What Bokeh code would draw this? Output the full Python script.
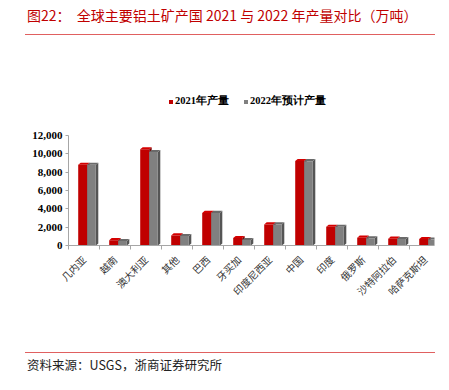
import numpy as np
from bokeh.plotting import figure
from bokeh.layouts import column
from bokeh.models import (FixedTicker, NumeralTickFormatter, Range1d, Legend,
                          LegendItem, Div)
from bokeh.embed import file_html
from bokeh.resources import INLINE

# ---------------- data ----------------
categories = ["几内亚", "越南", "澳大利亚", "其他", "巴西", "牙买加", "印度尼西亚",
              "中国", "印度", "俄罗斯", "沙特阿拉伯", "哈萨克斯坦"]
prod_2021 = [8800, 580, 10500, 1100, 3550, 820, 2300, 9220, 2040, 850, 740, 700]
prod_2022 = [8800, 480, 10200, 1030, 3550, 600, 2300, 9200, 2040, 780, 700, 650]
y_ticks = [0, 2000, 4000, 6000, 8000, 10000, 12000]
series_names = ["2021年产量", "2022年预计产量"]
series_colors = ["#C00000", "#808080"]

title_text = "图22：  全球主要铝土矿产国 2021 与 2022 年产量对比（万吨）"
source_text = "资料来源：USGS，浙商证券研究所"

W = 449
CJK = "Noto Sans CJK SC"
SERIF = "Liberation Serif"
RULE = "#E06060"

# ---------------- header ----------------
HEAD_H = 40
header = Div(width=W, height=HEAD_H, margin=0,
             styles={"position": "relative", "overflow": "visible"},
             text=(
                 f'<div style="position:absolute;left:27px;top:5px;white-space:nowrap;'
                 f'font-family:\'{CJK}\';font-size:14px;line-height:20px;color:#C00000;">'
                 f'{title_text.replace("  ", "&nbsp;&nbsp;")}</div>'
                 f'<div style="position:absolute;left:25px;top:33.5px;width:410px;'
                 f'height:1.2px;background:{RULE};"></div>'))

# ---------------- chart ----------------
CH_H = 305
TOP_B, BOT_B = 30, 100
frame_h = CH_H - TOP_B - BOT_B
y_end = 12000 * frame_h / 110.0

p = figure(width=W, height=CH_H, output_backend="svg", toolbar_location=None,
           x_range=Range1d(0, 11.806), y_range=Range1d(0, y_end),
           min_border_left=68, min_border_right=15, min_border_top=TOP_B,
           min_border_bottom=BOT_B, outline_line_color=None)
p.grid.visible = False

n = len(categories)
idx = np.arange(n)
v1 = np.array(prod_2021, dtype=float)
v2 = np.array(prod_2022, dtype=float)

dx, dy = 0.08, 230.0
r_left, r_right = idx + 0.313, idx + 0.603
g_left, g_right = idx + 0.603, idx + 0.881


def side_and_cap(left, right, vals):
    side_x, side_y, cap_x, cap_y = [], [], [], []
    for l, r, v in zip(left, right, vals):
        side_x.append([r, r + dx, r + dx, r])
        side_y.append([0, dy, v + dy, v])
        cap_x.append([l, r, r + dx, l + dx])
        cap_y.append([v, v, v + dy, v + dy])
    return side_x, side_y, cap_x, cap_y


rsx, rsy, rcx, rcy = side_and_cap(r_left, r_right, v1)
gsx, gsy, gcx, gcy = side_and_cap(g_left, g_right, v2)

p.patches(rsx, rsy, fill_color="#7a0000", line_color=None)
p.patches(rcx, rcy, fill_color="#d40000", line_color=None)
red = p.quad(left=r_left, right=r_right, bottom=0, top=v1,
             fill_color=series_colors[0], line_color=None)
p.patches(gsx, gsy, fill_color="#555555", line_color=None)
p.patches(gcx, gcy, fill_color="#6a6a6a", line_color=None)
gray = p.quad(left=g_left, right=g_right, bottom=0, top=v2,
              fill_color=series_colors[1], line_color=None)

xax = p.xaxis[0]
xax.ticker = FixedTicker(ticks=list(idx + 0.5), minor_ticks=list(range(0, n + 1)))
xax.major_label_overrides = {float(i + 0.5): c for i, c in enumerate(categories)}
xax.major_label_orientation = np.pi / 4
xax.major_tick_line_color = None
xax.minor_tick_line_color = "#a6a6a6"
xax.minor_tick_out = 4
xax.minor_tick_in = 0
xax.axis_line_color = "#a6a6a6"
xax.major_label_text_font = CJK
xax.major_label_text_font_size = "10px"
xax.major_label_text_color = "#333333"
xax.major_label_standoff = 6

yax = p.yaxis[0]
yax.ticker = FixedTicker(ticks=y_ticks, minor_ticks=[])
yax.formatter = NumeralTickFormatter(format="0,0")
yax.bounds = (0, 12000)
yax.axis_line_color = "#a6a6a6"
yax.major_tick_line_color = "#a6a6a6"
yax.major_tick_out = 3
yax.major_tick_in = 0
yax.minor_tick_line_color = None
yax.major_label_text_font = SERIF
yax.major_label_text_font_style = "bold"
yax.major_label_text_font_size = "11px"
yax.major_label_text_color = "#000000"
yax.major_label_standoff = 3

# legend: location is its bottom-left corner, measured up from the frame bottom
frame_bottom_screen = HEAD_H + CH_H - BOT_B
leg_h = 12
legend = Legend(items=[LegendItem(label=series_names[0], renderers=[red]),
                       LegendItem(label=series_names[1], renderers=[gray])],
                orientation="horizontal",
                location=(100, frame_bottom_screen - (96.3 + leg_h)),
                glyph_width=5, glyph_height=5, label_height=leg_h,
                label_standoff=2, spacing=14, padding=0, margin=0,
                border_line_color=None, background_fill_alpha=0,
                label_text_font=SERIF, label_text_font_style="bold",
                label_text_font_size="10.5px", label_text_color="#000000")
p.add_layout(legend, "center")

# ---------------- footer ----------------
FOOT_H = 390 - HEAD_H - CH_H
footer = Div(width=W, height=FOOT_H, margin=0,
             styles={"position": "relative", "overflow": "visible"},
             text=(
                 f'<div style="position:absolute;left:25px;top:6.5px;width:410px;'
                 f'height:1.2px;background:{RULE};"></div>'
                 f'<div style="position:absolute;left:27px;top:11px;white-space:nowrap;'
                 f'font-family:\'{CJK}\';font-size:12.5px;line-height:18px;color:#222222;">'
                 f'{source_text}</div>'))

layout = column(header, p, footer, spacing=0)
open("out.html", "w").write(file_html(layout, INLINE))
